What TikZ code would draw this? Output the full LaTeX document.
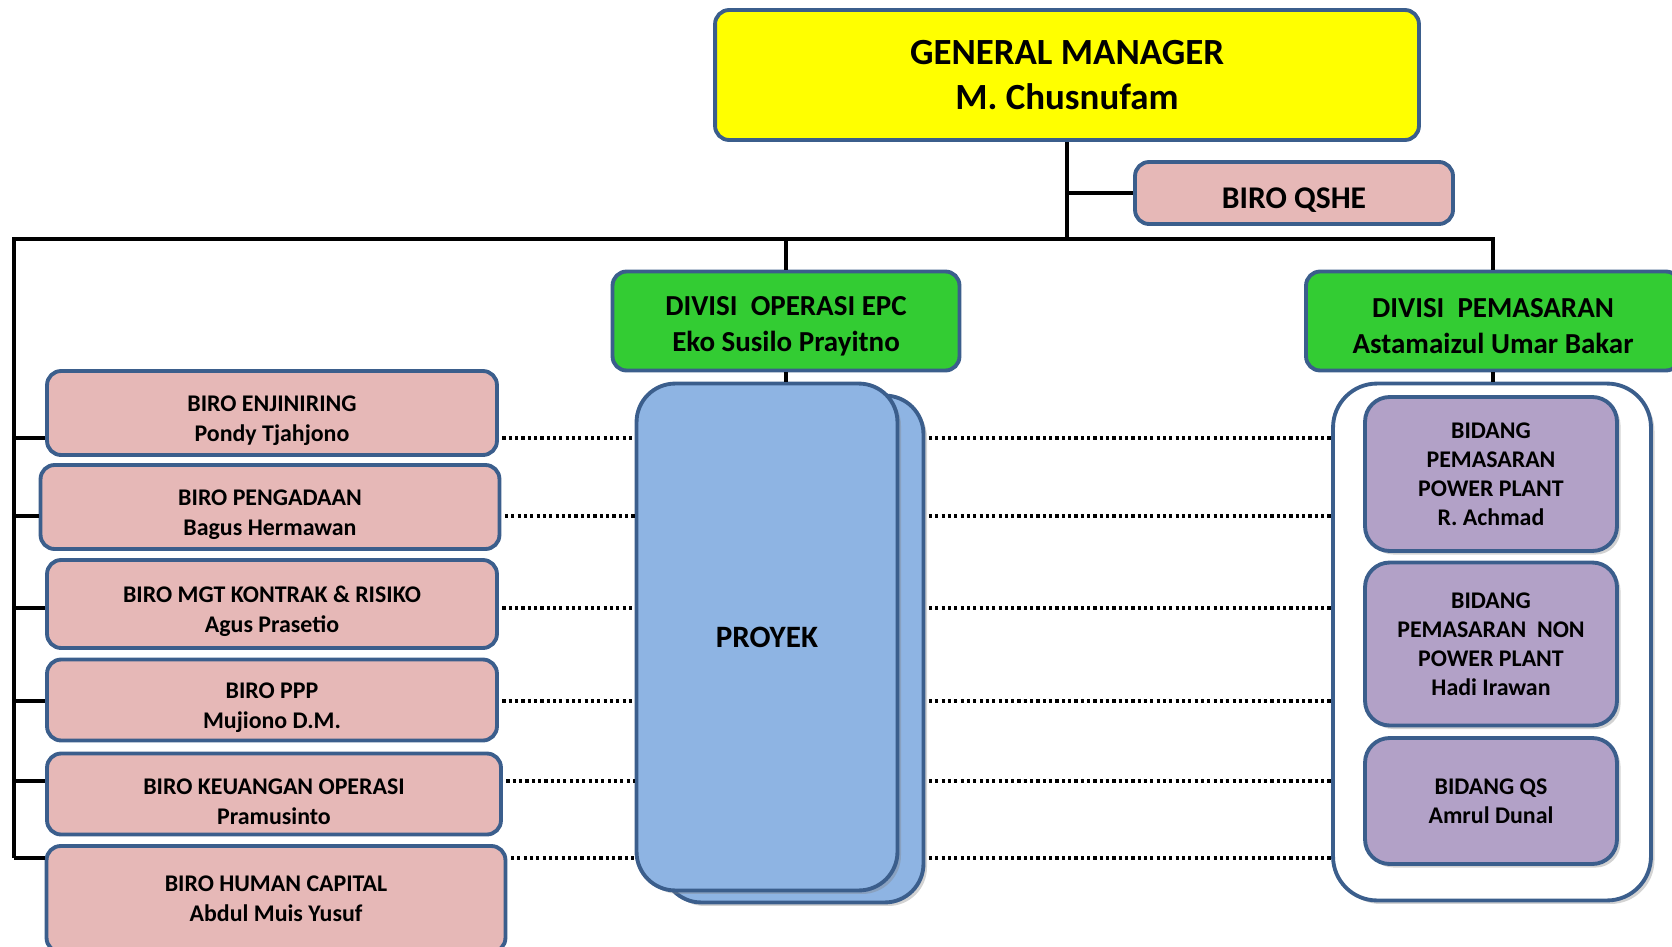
\documentclass[tikz,border=0pt]{standalone}
\usepackage{fontspec}
\setmainfont{Carlito}
\usetikzlibrary{shadows}
\definecolor{rim}{RGB}{59,94,140}
\definecolor{gmyellow}{RGB}{255,255,0}
\definecolor{biropink}{RGB}{230,184,183}
\definecolor{divgreen}{RGB}{51,204,51}
\definecolor{pryblue}{RGB}{142,180,227}
\definecolor{bidpurple}{RGB}{178,161,199}
\newcommand\lowbiro{\rule{0pt}{17.5pt}}
\newcommand\lowdiv{\rule{0pt}{16.6pt}}

\begin{document}
\begin{tikzpicture}[x=0.02cm,y=-0.02cm,
  box/.style={draw=rim,line width=2.2pt,rounded corners=8pt,align=center,inner sep=0pt},
  biro/.style={box,fill=biropink,minimum width=9cm,font=\bfseries\fontsize{13.6}{17}\selectfont},
  divisi/.style={box,fill=divgreen,minimum height=1.98cm,font=\bfseries\fontsize{16.5}{20.5}\selectfont},
  bidang/.style={box,fill=bidpurple,minimum width=5.04cm,rounded corners=14pt,
    drop shadow={shadow xshift=2pt,shadow yshift=-2pt,opacity=.35},font=\bfseries\fontsize{13.6}{16.5}\selectfont},
  proyek/.style={box,fill=pryblue,rounded corners=22pt,minimum width=5.22cm,minimum height=10.14cm,
    drop shadow={shadow xshift=2pt,shadow yshift=-2pt,opacity=.35},font=\bfseries\fontsize{17.7}{21}\selectfont},
  wire/.style={line width=2.6pt},
  dotline/.style={line width=1.8pt,dash pattern=on 1.8pt off 1.8pt}]
  \useasboundingbox (0,0) rectangle (1672,946);
  \clip (0,0) rectangle (1672,946);

  \node[box,fill=gmyellow,minimum width=14.08cm,minimum height=2.6cm,font=\bfseries\fontsize{21}{26}\selectfont] (gm) at (1067,75) {GENERAL MANAGER\\M. Chusnufam};
  \node[box,fill=biropink,minimum width=6.36cm,minimum height=1.24cm,font=\bfseries\fontsize{18}{22}\selectfont] (qshe) at (1294,193) {\rule{0pt}{20pt}BIRO QSHE};
  \node[divisi,minimum width=6.94cm] (epc) at (786,321) {\lowdiv DIVISI\ \ OPERASI EPC\\Eko Susilo Prayitno};
  \node[divisi,minimum width=7.48cm] (pms) at (1493,321) {\lowdiv DIVISI\ \ PEMASARAN\\Astamaizul Umar Bakar};

  \node[biro,minimum height=1.68cm] (enj) at (272,413) {\lowbiro BIRO ENJINIRING\\Pondy Tjahjono};
  \node[biro,minimum height=1.68cm,minimum width=9.18cm] (pgd) at (270,507) {\lowbiro BIRO PENGADAAN\\Bagus Hermawan};
  \node[biro,minimum height=1.76cm] (mgt) at (272,604) {\lowbiro BIRO MGT KONTRAK \& RISIKO\\Agus Prasetio};
  \node[biro,minimum height=1.62cm] (ppp) at (272,700) {\lowbiro BIRO PPP\\Mujiono D.M.};
  \node[biro,minimum height=1.62cm,minimum width=9.08cm] (keu) at (274,794) {\lowbiro BIRO KEUANGAN OPERASI\\Pramusinto};
  \node[biro,minimum height=2.12cm,minimum width=9.18cm] (hc) at (276,899) {BIRO HUMAN CAPITAL\\Abdul Muis Yusuf};

  \node[proyek] (back) at (793,649) {};
  \node[proyek] (pry) at (767,637) {PROYEK};

  \node[box,fill=white,rounded corners=25pt,minimum width=6.36cm,minimum height=10.34cm,
    drop shadow={shadow xshift=2pt,shadow yshift=-2pt,opacity=.35}] (grp) at (1492,642) {};
  \node[bidang,minimum height=3.08cm] (bpp) at (1491,474) {BIDANG\\PEMASARAN\\POWER PLANT\\R. Achmad};
  \node[bidang,minimum height=3.26cm] (bnpp) at (1491,644) {BIDANG\\PEMASARAN\ \ NON\\POWER PLANT\\Hadi Irawan};
  \node[bidang,minimum height=2.52cm] (bqs) at (1491,801) {BIDANG QS\\Amrul Dunal};

  \coordinate (top) at (14,239);
  \coordinate (r1) at (14,438);
  \coordinate (r2) at (14,516);
  \coordinate (r3) at (14,608);
  \coordinate (r4) at (14,701);
  \coordinate (r5) at (14,781);
  \coordinate (r6) at (14,858);

  \draw[wire] (gm.south) -- (gm.south |- top);
  \draw[wire] (gm.south |- qshe.west) -- (qshe.west);
  \draw[wire] (r6) -- (top) -| (pms.north);
  \draw[wire] (epc.north |- top) -- (epc.north);
  \draw[wire,line width=2pt] (epc.south) -- (epc.south |- pry.north);
  \draw[wire,line width=2pt] (pms.south) -- (pms.south |- grp.north);

  \draw[wire] (r1) -- (r1 -| enj.west);
  \draw[wire] (r2) -- (r2 -| pgd.west);
  \draw[wire] (r3) -- (r3 -| mgt.west);
  \draw[wire] (r4) -- (r4 -| ppp.west);
  \draw[wire] (r5) -- (r5 -| keu.west);
  \draw[wire] (r6) -- (r6 -| hc.west);

  \draw[dotline] ([xshift=2pt]r1 -| enj.east) -- (r1 -| pry.west);
  \draw[dotline] ([xshift=2pt]r2 -| pgd.east) -- (r2 -| pry.west);
  \draw[dotline] ([xshift=2pt]r3 -| mgt.east) -- (r3 -| pry.west);
  \draw[dotline] ([xshift=2pt]r4 -| ppp.east) -- (r4 -| pry.west);
  \draw[dotline] ([xshift=2pt]r5 -| keu.east) -- (r5 -| pry.west);
  \draw[dotline] ([xshift=2pt]r6 -| hc.east) -- (r6 -| pry.west);

  \draw[dotline] ([xshift=2pt]r1 -| back.east) -- (r1 -| grp.west);
  \draw[dotline] ([xshift=2pt]r2 -| back.east) -- (r2 -| grp.west);
  \draw[dotline] ([xshift=2pt]r3 -| back.east) -- (r3 -| grp.west);
  \draw[dotline] ([xshift=2pt]r4 -| back.east) -- (r4 -| grp.west);
  \draw[dotline] ([xshift=2pt]r5 -| back.east) -- (r5 -| grp.west);
  \draw[dotline] ([xshift=2pt]r6 -| back.east) -- (r6 -| grp.west);
\end{tikzpicture}
\end{document}
